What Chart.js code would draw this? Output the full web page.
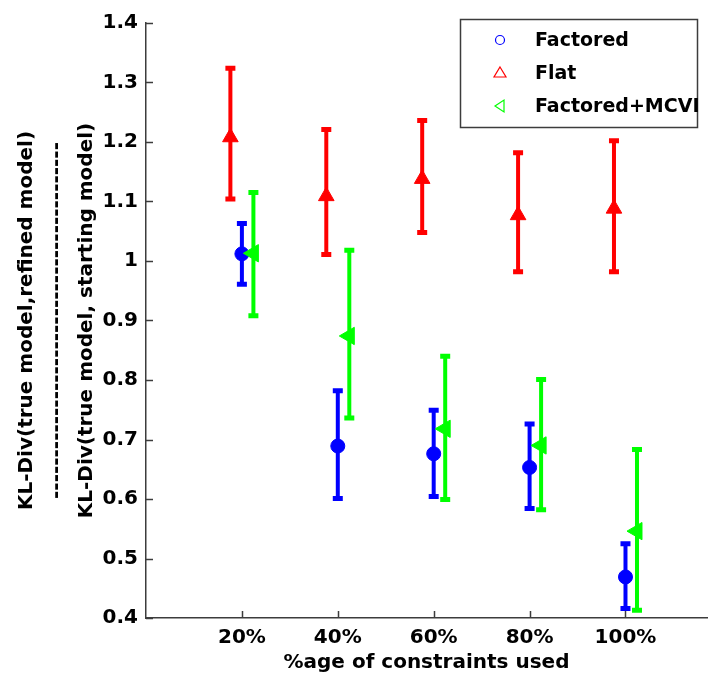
<!DOCTYPE html>
<html>
<head>
<meta charset="utf-8">
<script src="https://cdn.jsdelivr.net/npm/chart.js@4.4.0/dist/chart.umd.min.js"></script>
<style>
html, body { margin: 0; padding: 0; background: #fff; }
#wrap { width: 718px; height: 684px; }
</style>
</head>
<body>
<div id="wrap"><canvas id="klChart"></canvas></div>
<script>
// categories on the x axis (plotted at 1..5)
var xLabels = ['20%', '40%', '60%', '80%', '100%'];
var xPos = [1, 2, 3, 4, 5];
var yTicks = [0.4, 0.5, 0.6, 0.7, 0.8, 0.9, 1.0, 1.1, 1.2, 1.3, 1.4];

// Factored
var factoredMean = [1.012, 0.689, 0.676, 0.653, 0.469];
var factoredLow  = [0.961, 0.601, 0.604, 0.584, 0.416];
var factoredHigh = [1.063, 0.782, 0.749, 0.726, 0.525];

// Flat
var flatMean = [1.208, 1.109, 1.138, 1.077, 1.088];
var flatLow  = [1.104, 1.011, 1.048, 0.982, 0.982];
var flatHigh = [1.324, 1.221, 1.236, 1.182, 1.202];

// Factored+MCVI
var mcviMean = [1.013, 0.874, 0.718, 0.690, 0.546];
var mcviLow  = [0.908, 0.736, 0.599, 0.582, 0.413];
var mcviHigh = [1.115, 1.018, 0.840, 0.801, 0.683];

var FONT = 'DejaVu Sans';
var AXIS = '#3c3c3c';

function pts(mean, shift) {
    return mean.map(function (v, i) { return { x: xPos[i] + shift, y: v }; });
}

// vertical error bars with caps, drawn just before each dataset's markers
var errorBars = {
    id: 'errorBars',
    beforeDatasetDraw: function (chart, args) {
        var ds = chart.data.datasets[args.index];
        var xs = chart.scales.x, ys = chart.scales.y;
        var ctx = chart.ctx;
        ctx.save();
        ctx.strokeStyle = ds.borderColor;
        ds.data.forEach(function (p, i) {
            var px = xs.getPixelForValue(p.x);
            var top = ys.getPixelForValue(ds.errHigh[i]);
            var bot = ys.getPixelForValue(ds.errLow[i]);
            ctx.lineWidth = 4;
            ctx.beginPath();
            ctx.moveTo(px, top);
            ctx.lineTo(px, bot);
            ctx.stroke();
            ctx.lineWidth = 5;
            ctx.beginPath();
            ctx.moveTo(px - 5, top);
            ctx.lineTo(px + 5, top);
            ctx.moveTo(px - 5, bot);
            ctx.lineTo(px + 5, bot);
            ctx.stroke();
        });
        ctx.restore();
    }
};

// matlab style inward ticks
var innerTicks = {
    id: 'innerTicks',
    afterDraw: function (chart) {
        var ctx = chart.ctx, a = chart.chartArea;
        var xs = chart.scales.x, ys = chart.scales.y;
        ctx.save();
        ctx.strokeStyle = AXIS;
        ctx.lineWidth = 1.5;
        ctx.beginPath();
        xPos.forEach(function (v) {
            var px = Math.round(xs.getPixelForValue(v)) + 0.5;
            ctx.moveTo(px, a.bottom);
            ctx.lineTo(px, a.bottom - 7);
        });
        yTicks.forEach(function (v) {
            var py = Math.round(ys.getPixelForValue(v)) + 0.5;
            ctx.moveTo(a.left, py);
            ctx.lineTo(a.left + 7, py);
        });
        ctx.stroke();
        ctx.restore();
    }
};

// boxed legend with hollow markers
var boxLegend = {
    id: 'boxLegend',
    afterDraw: function (chart) {
        var ctx = chart.ctx;
        var left = 460, top = 19, w = 237, h = 108;
        ctx.save();
        ctx.fillStyle = '#fff';
        ctx.fillRect(left, top, w, h);
        ctx.strokeStyle = AXIS;
        ctx.lineWidth = 1.5;
        ctx.strokeRect(left + 0.5, top + 0.5, w, h);
        var rows = [40, 73, 106];
        chart.data.datasets.forEach(function (ds, r) {
            var y = rows[r], mx = 500;
            ctx.strokeStyle = ds.borderColor;
            ctx.lineWidth = 1.2;
            ctx.beginPath();
            if (ds.pointStyle === 'circle') {
                ctx.arc(mx, y, 4.5, 0, Math.PI * 2);
            } else if (ds.pointRotation === -90) {
                ctx.moveTo(mx - 5, y);
                ctx.lineTo(mx + 4, y - 6);
                ctx.lineTo(mx + 4, y + 6);
                ctx.closePath();
            } else {
                ctx.moveTo(mx, y - 6);
                ctx.lineTo(mx + 6, y + 4);
                ctx.lineTo(mx - 6, y + 4);
                ctx.closePath();
            }
            ctx.stroke();
            ctx.fillStyle = '#000';
            ctx.font = 'bold 19px "' + FONT + '"';
            ctx.textBaseline = 'middle';
            ctx.fillText(ds.label, 535, y + 1);
        });
        ctx.restore();
    }
};

var ctx = document.getElementById('klChart').getContext('2d');
var myChart = new Chart(ctx, {
    type: 'scatter',
    data: {
        datasets: [
            {
                label: 'Factored',
                data: pts(factoredMean, 0),
                errLow: factoredLow,
                errHigh: factoredHigh,
                borderColor: '#0000ff',
                backgroundColor: '#0000ff',
                pointStyle: 'circle',
                pointRadius: 7,
                order: 2
            },
            {
                label: 'Flat',
                data: pts(flatMean, -0.12),
                errLow: flatLow,
                errHigh: flatHigh,
                borderColor: '#ff0000',
                backgroundColor: '#ff0000',
                pointStyle: 'triangle',
                pointRadius: 9,
                order: 1
            },
            {
                label: 'Factored+MCVI',
                data: pts(mcviMean, 0.12),
                errLow: mcviLow,
                errHigh: mcviHigh,
                borderColor: '#00ff00',
                backgroundColor: '#00ff00',
                pointStyle: 'triangle',
                pointRotation: -90,
                pointRadius: 10,
                order: 0
            }
        ]
    },
    options: {
        responsive: true,
        maintainAspectRatio: false,
        animation: false,
        layout: { padding: { top: 23, right: 0, left: 0, bottom: 0 } },
        plugins: {
            legend: { display: false },
            tooltip: { enabled: false }
        },
        scales: {
            x: {
                type: 'linear',
                min: 0,
                max: 5.85,
                grid: { display: false, drawTicks: false },
                border: { color: AXIS, width: 1.5 },
                afterBuildTicks: function (s) {
                    s.ticks = xPos.map(function (v) { return { value: v }; });
                },
                afterFit: function (s) { s.height = 66; },
                ticks: {
                    color: '#000',
                    padding: 8,
                    maxRotation: 0,
                    font: { family: FONT, size: 20, weight: 'bold' },
                    callback: function (v) { return xLabels[xPos.indexOf(v)]; }
                },
                title: {
                    display: true,
                    text: '%age of constraints used',
                    color: '#000',
                    padding: { top: 0, bottom: 9 },
                    font: { family: FONT, size: 20, weight: 'bold', lineHeight: 1.2 }
                }
            },
            y: {
                min: 0.4,
                max: 1.4,
                grid: { display: false, drawTicks: false },
                border: { color: AXIS, width: 1.5 },
                afterBuildTicks: function (s) {
                    s.ticks = yTicks.map(function (v) { return { value: v }; });
                },
                afterFit: function (s) { s.width = 146; },
                ticks: {
                    color: '#000',
                    padding: 8,
                    font: { family: FONT, size: 20, weight: 'bold' },
                    callback: function (v) { return String(parseFloat(v.toFixed(1))); }
                },
                title: {
                    display: true,
                    text: [
                        'KL-Div(true model,refined model)',
                        '-------------------------------------------',
                        'KL-Div(true model, starting model)'
                    ],
                    color: '#000',
                    padding: { top: 12, bottom: 0 },
                    font: { family: FONT, size: 20, weight: 'bold', lineHeight: 1.5 }
                }
            }
        }
    },
    plugins: [errorBars, innerTicks, boxLegend]
});
</script>
</body>
</html>
